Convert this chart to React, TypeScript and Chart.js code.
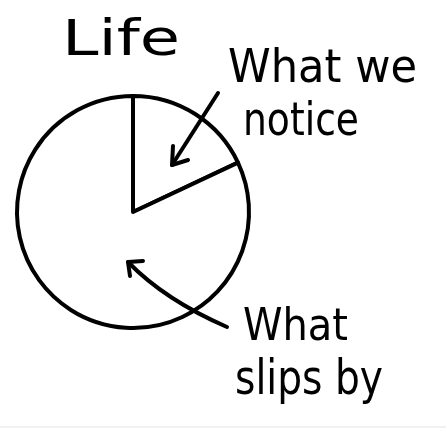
import React, { useEffect, useRef } from "react";
import { Chart, registerables } from "chart.js";

Chart.register(...registerables);

const categories = ["What we notice", "What slips by"];
const shares = [18, 82];
const title = "Life";

const INK = "#000000";
const FONT = "'DejaVu Sans', sans-serif";

function drawFitted(ctx: CanvasRenderingContext2D, text: string, left: number, right: number, baseline: number, size: number) {
  ctx.save();
  ctx.font = `${size}px ${FONT}`;
  ctx.textBaseline = "alphabetic";
  ctx.textAlign = "left";
  const w = ctx.measureText(text).width;
  const sx = (right - left) / w;
  ctx.translate(left, baseline);
  ctx.scale(sx, 1);
  ctx.fillStyle = INK;
  ctx.fillText(text, 0, 0);
  ctx.restore();
}

const annotate = {
  id: "annotate",
  afterDraw(chart: any) {
    const ctx: CanvasRenderingContext2D = chart.ctx;
    const labels: string[] = chart.data.labels;
    ctx.save();
    drawFitted(ctx, title, 62, 180, 55, 50);
    const l1 = labels[0].split(" ");
    drawFitted(ctx, l1.slice(0, 2).join(" "), 228, 417, 82, 46);
    drawFitted(ctx, l1.slice(2).join(" "), 243, 359, 135, 46);
    const l2 = labels[1].split(" ");
    drawFitted(ctx, l2[0], 243, 348, 340, 44);
    drawFitted(ctx, l2.slice(1).join(" "), 235, 383, 394, 48);

    ctx.strokeStyle = INK;
    ctx.lineWidth = 4;
    ctx.lineCap = "round";
    ctx.lineJoin = "round";
    ctx.beginPath();
    ctx.moveTo(218, 93);
    ctx.lineTo(172, 165);
    ctx.stroke();
    ctx.beginPath();
    ctx.moveTo(173, 146);
    ctx.lineTo(172, 165);
    ctx.lineTo(188, 160);
    ctx.stroke();
    ctx.beginPath();
    ctx.moveTo(227, 327);
    ctx.quadraticCurveTo(165, 300, 128, 262);
    ctx.stroke();
    ctx.beginPath();
    ctx.moveTo(130, 276);
    ctx.lineTo(128, 262);
    ctx.lineTo(143, 261);
    ctx.stroke();

    ctx.fillStyle = "#f1f1f1";
    ctx.fillRect(0, 426, 446, 2);
    ctx.restore();
  },
};

export default function App() {
  const ref = useRef<HTMLCanvasElement | null>(null);
  useEffect(() => {
    document.body.style.margin = "0";
    const canvas = ref.current;
    if (!canvas) return;
    const chart = new Chart(canvas, {
      type: "pie",
      data: {
        labels: categories,
        datasets: [
          {
            data: shares,
            backgroundColor: ["#ffffff", "#ffffff"],
            borderColor: INK,
            borderWidth: 4,
            borderJoinStyle: "round",
          } as any,
        ],
      },
      options: {
        animation: false,
        responsive: false,
        maintainAspectRatio: false,
        radius: 116,
        layout: { padding: { left: 0, right: 180, top: 0, bottom: 4 } },
        plugins: {
          legend: { display: false },
          title: { display: false },
          tooltip: { enabled: false },
        },
        events: [],
      } as any,
      plugins: [annotate],
    });
    return () => chart.destroy();
  }, []);
  return (
    <div style={{ position: "fixed", left: 0, top: 0, width: 446, height: 428, background: "#fff" }}>
      <canvas ref={ref} width={446} height={428} style={{ display: "block", width: 446, height: 428 }} />
    </div>
  );
}
